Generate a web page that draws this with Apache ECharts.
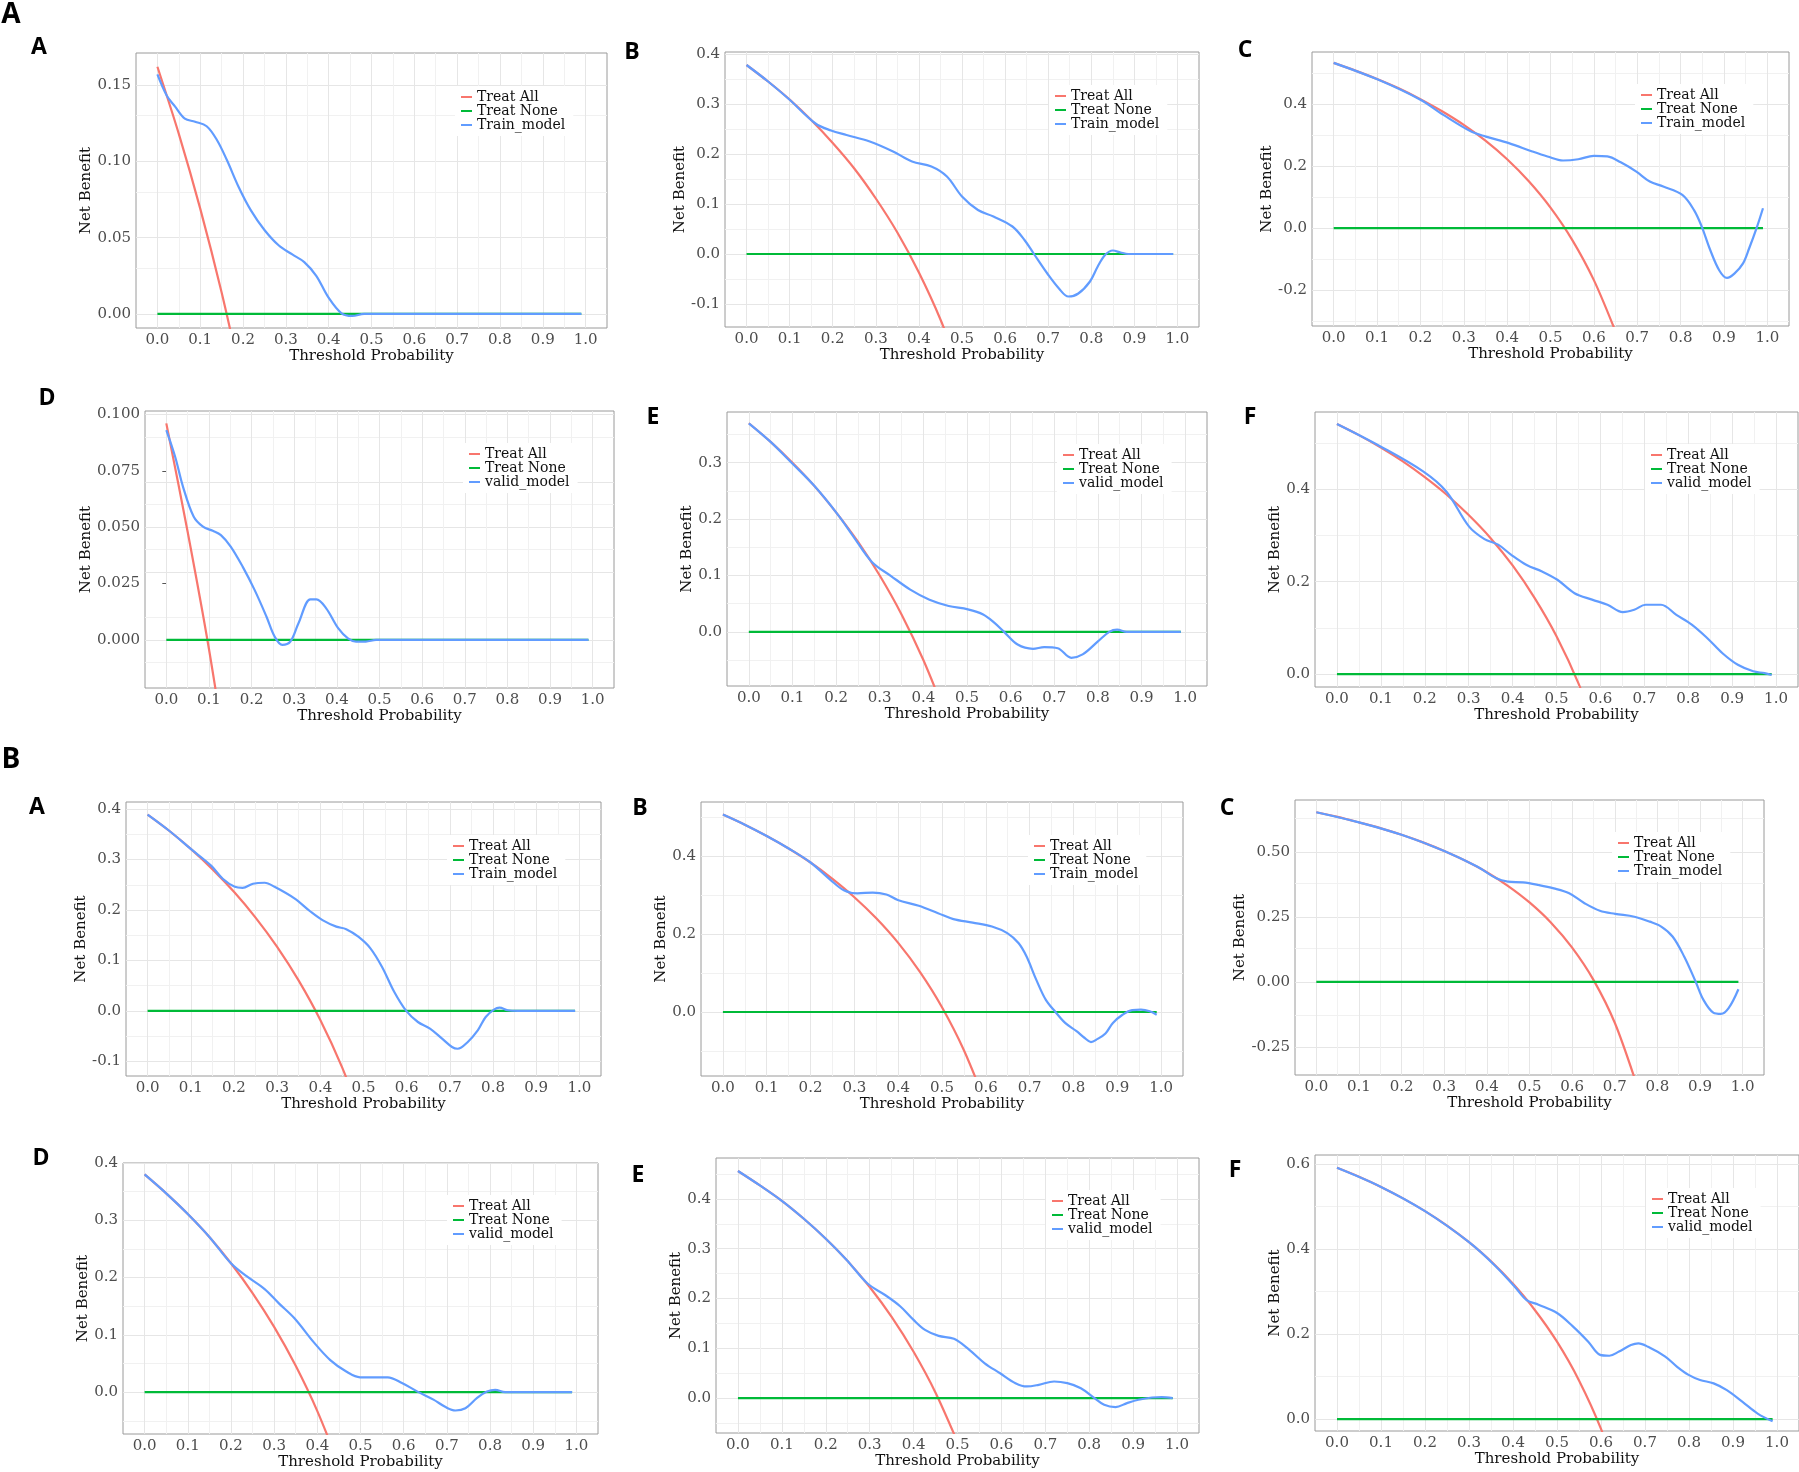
<!DOCTYPE html>
<html lang="en">
<head>
<meta charset="UTF-8">
<title>Decision curve analysis</title>
<style>
  html, body { margin: 0; padding: 0; background: #fff; }
  #chart { width: 1799px; height: 1472px; }
</style>
</head>
<body>
<div id="chart"></div>
<script src="https://cdn.jsdelivr.net/npm/echarts@6.0.0/dist/echarts.min.js"></script>
<script>
// ---- data: [threshold, net benefit] ----
var xTicks = [0, 0.1, 0.2, 0.3, 0.4, 0.5, 0.6, 0.7, 0.8, 0.9, 1.0];
var treatNone = [[0, 0], [0.99, 0]];

// group A, train
var a1All = [[0,0.162],[0.05,0.118],[0.1,0.069],[0.15,0.014],[0.2,-0.048]];
var a1Model = [[0,0.157],[0.022,0.143],[0.041,0.136],[0.064,0.128],[0.088,0.126],[0.115,0.123],[0.139,0.114],[0.162,0.101],[0.19,0.083],[0.218,0.068],[0.25,0.055],[0.283,0.045],[0.315,0.039],[0.343,0.034],[0.371,0.025],[0.399,0.011],[0.43,0.0004],[0.455,-0.0013],[0.483,0],[0.6,0],[0.8,0],[0.99,0]];
var b1All = [[0,0.378],[0.05,0.345],[0.1,0.309],[0.15,0.268],[0.2,0.222],[0.25,0.171],[0.3,0.111],[0.35,0.043],[0.4,-0.037],[0.45,-0.131],[0.5,-0.244]];
var b1Model = [[0,0.378],[0.05,0.345],[0.098,0.31],[0.16,0.261],[0.196,0.247],[0.232,0.238],[0.286,0.225],[0.34,0.205],[0.384,0.185],[0.429,0.175],[0.465,0.155],[0.5,0.115],[0.537,0.088],[0.573,0.075],[0.617,0.055],[0.645,0.028],[0.667,0],[0.698,-0.039],[0.725,-0.069],[0.747,-0.085],[0.77,-0.079],[0.797,-0.055],[0.815,-0.025],[0.832,-0.002],[0.85,0.007],[0.868,0.003],[0.886,0],[0.99,0]];
var c1All = [[0,0.533],[0.05,0.508],[0.1,0.481],[0.15,0.451],[0.2,0.416],[0.25,0.377],[0.3,0.333],[0.35,0.282],[0.4,0.222],[0.45,0.151],[0.5,0.066],[0.55,-0.038],[0.6,-0.168],[0.65,-0.334]];
var c1Model = [[0,0.533],[0.102,0.479],[0.2,0.414],[0.253,0.365],[0.316,0.312],[0.351,0.295],[0.404,0.274],[0.458,0.247],[0.493,0.231],[0.529,0.218],[0.564,0.222],[0.6,0.233],[0.631,0.231],[0.662,0.212],[0.698,0.182],[0.729,0.15],[0.76,0.134],[0.804,0.107],[0.831,0.058],[0.849,0.004],[0.867,-0.066],[0.889,-0.136],[0.907,-0.161],[0.924,-0.147],[0.944,-0.114],[0.958,-0.066],[0.975,-0.001],[0.99,0.064]];
// group A, validation
var d1All = [[0,0.096],[0.05,0.048],[0.1,-0.004],[0.15,-0.064]];
var d1Model = [[0,0.093],[0.021,0.081],[0.039,0.068],[0.064,0.0547],[0.086,0.0502],[0.109,0.0484],[0.128,0.0465],[0.151,0.0414],[0.179,0.0325],[0.207,0.0222],[0.235,0.0103],[0.254,0.0015],[0.272,-0.0022],[0.291,-0.0007],[0.31,0.0074],[0.338,0.018],[0.352,0.018],[0.375,0.014],[0.403,0.0052],[0.426,0.0007],[0.445,-0.0007],[0.468,-0.0007],[0.492,0],[0.99,0]];
var e1All = [[0,0.37],[0.05,0.337],[0.1,0.3],[0.15,0.259],[0.2,0.212],[0.25,0.16],[0.3,0.1],[0.35,0.031],[0.4,-0.05],[0.45,-0.145]];
var e1Model = [[0,0.37],[0.05,0.337],[0.098,0.3],[0.15,0.259],[0.204,0.208],[0.239,0.17],[0.282,0.124],[0.326,0.099],[0.37,0.075],[0.414,0.057],[0.458,0.046],[0.502,0.04],[0.537,0.031],[0.563,0.016],[0.585,0],[0.616,-0.0225],[0.651,-0.03],[0.677,-0.027],[0.708,-0.029],[0.739,-0.046],[0.765,-0.04],[0.8,-0.017],[0.826,0],[0.844,0.004],[0.866,0],[0.99,0]];
var f1All = [[0,0.541],[0.05,0.517],[0.1,0.49],[0.15,0.46],[0.2,0.426],[0.25,0.388],[0.3,0.344],[0.35,0.294],[0.4,0.235],[0.45,0.165],[0.5,0.082],[0.55,-0.02],[0.6,-0.147]];
var f1Model = [[0,0.541],[0.1,0.492],[0.197,0.438],[0.249,0.395],[0.301,0.319],[0.336,0.292],[0.367,0.28],[0.397,0.258],[0.432,0.236],[0.467,0.222],[0.502,0.204],[0.541,0.175],[0.581,0.161],[0.616,0.15],[0.651,0.134],[0.677,0.139],[0.703,0.15],[0.738,0.15],[0.773,0.128],[0.808,0.107],[0.843,0.078],[0.878,0.045],[0.913,0.02],[0.948,0.006],[0.974,0.002],[0.99,-0.002]];

// group B, train
var a2All = [[0,0.389],[0.05,0.357],[0.1,0.321],[0.15,0.281],[0.2,0.236],[0.25,0.185],[0.3,0.127],[0.35,0.06],[0.4,-0.018],[0.45,-0.111],[0.5,-0.222]];
var a2Model = [[0,0.389],[0.05,0.357],[0.1,0.321],[0.147,0.288],[0.174,0.262],[0.202,0.246],[0.22,0.244],[0.244,0.252],[0.271,0.254],[0.294,0.246],[0.34,0.223],[0.377,0.197],[0.405,0.18],[0.437,0.167],[0.46,0.162],[0.488,0.147],[0.516,0.124],[0.543,0.087],[0.571,0.038],[0.599,0],[0.626,-0.022],[0.654,-0.035],[0.682,-0.055],[0.705,-0.0715],[0.718,-0.075],[0.741,-0.062],[0.765,-0.038],[0.783,-0.012],[0.802,0.0026],[0.815,0.0066],[0.834,0.0013],[0.857,0],[0.99,0]];
var b2All = [[0,0.506],[0.05,0.48],[0.1,0.451],[0.15,0.419],[0.2,0.383],[0.25,0.341],[0.3,0.294],[0.35,0.24],[0.4,0.177],[0.45,0.102],[0.5,0.012],[0.55,-0.098],[0.6,-0.235]];
var b2Model = [[0,0.506],[0.05,0.48],[0.1,0.451],[0.15,0.419],[0.2,0.383],[0.246,0.338],[0.276,0.312],[0.307,0.304],[0.342,0.306],[0.373,0.301],[0.399,0.287],[0.447,0.272],[0.491,0.253],[0.526,0.238],[0.57,0.229],[0.614,0.219],[0.649,0.202],[0.675,0.176],[0.693,0.142],[0.715,0.083],[0.737,0.031],[0.759,0],[0.781,-0.028],[0.807,-0.049],[0.825,-0.066],[0.84,-0.077],[0.855,-0.069],[0.873,-0.055],[0.89,-0.028],[0.912,-0.007],[0.934,0.005],[0.954,0.006],[0.974,0.002],[0.99,-0.007]];
var c2All = [[0,0.653],[0.05,0.635],[0.1,0.614],[0.15,0.592],[0.2,0.566],[0.25,0.537],[0.3,0.504],[0.35,0.466],[0.4,0.422],[0.45,0.369],[0.5,0.306],[0.55,0.229],[0.6,0.132],[0.65,0.008],[0.7,-0.157],[0.75,-0.388]];
var c2Model = [[0,0.653],[0.1,0.614],[0.2,0.566],[0.3,0.504],[0.377,0.444],[0.422,0.399],[0.449,0.386],[0.485,0.383],[0.521,0.373],[0.557,0.36],[0.593,0.341],[0.629,0.303],[0.665,0.274],[0.701,0.262],[0.746,0.251],[0.782,0.232],[0.809,0.213],[0.836,0.174],[0.863,0.097],[0.89,0],[0.908,-0.069],[0.931,-0.118],[0.949,-0.123],[0.967,-0.101],[0.99,-0.028]];
// group B, validation
var d2All = [[0,0.38],[0.05,0.347],[0.1,0.311],[0.15,0.271],[0.2,0.225],[0.25,0.173],[0.3,0.114],[0.35,0.046],[0.4,-0.033],[0.45,-0.127]];
var d2Model = [[0,0.38],[0.05,0.347],[0.1,0.311],[0.15,0.271],[0.2,0.225],[0.237,0.202],[0.278,0.18],[0.311,0.155],[0.347,0.129],[0.393,0.086],[0.43,0.056],[0.467,0.036],[0.499,0.026],[0.531,0.026],[0.563,0.026],[0.596,0.016],[0.632,0.001],[0.669,-0.013],[0.697,-0.026],[0.72,-0.032],[0.743,-0.028],[0.77,-0.01],[0.793,0.001],[0.812,0.004],[0.835,0],[0.99,0]];
var e2All = [[0,0.456],[0.05,0.427],[0.1,0.396],[0.15,0.36],[0.2,0.32],[0.25,0.275],[0.3,0.223],[0.35,0.163],[0.4,0.093],[0.45,0.011],[0.5,-0.088]];
var e2Model = [[0,0.456],[0.05,0.427],[0.1,0.396],[0.15,0.36],[0.2,0.32],[0.247,0.278],[0.295,0.23],[0.335,0.207],[0.37,0.184],[0.4,0.157],[0.426,0.137],[0.457,0.125],[0.492,0.119],[0.527,0.097],[0.562,0.07],[0.597,0.05],[0.632,0.03],[0.658,0.0234],[0.685,0.0267],[0.72,0.0334],[0.75,0.03],[0.781,0.02],[0.812,0],[0.834,-0.0134],[0.86,-0.018],[0.886,-0.01],[0.912,-0.0033],[0.943,0.0013],[0.965,0.002],[0.99,0]];
var f2All = [[0,0.591],[0.05,0.57],[0.1,0.546],[0.15,0.519],[0.2,0.489],[0.25,0.455],[0.3,0.416],[0.35,0.371],[0.4,0.318],[0.45,0.256],[0.5,0.182],[0.55,0.091],[0.6,-0.023],[0.65,-0.169]];
var f2Model = [[0,0.591],[0.1,0.546],[0.2,0.489],[0.3,0.416],[0.361,0.359],[0.405,0.31],[0.431,0.28],[0.458,0.269],[0.501,0.249],[0.536,0.218],[0.571,0.182],[0.598,0.151],[0.619,0.149],[0.641,0.159],[0.668,0.174],[0.685,0.178],[0.707,0.17],[0.746,0.147],[0.773,0.123],[0.799,0.104],[0.825,0.092],[0.856,0.084],[0.886,0.068],[0.921,0.041],[0.956,0.013],[0.99,-0.005]];

// y tick labels per panel
var yTicksA1 = [0, 0.05, 0.1, 0.15];
var yTicksB1 = [-0.1, 0, 0.1, 0.2, 0.3, 0.4];
var yTicksC1 = [-0.2, 0, 0.2, 0.4];
var yTicksD1 = [0, 0.025, 0.05, 0.075, 0.1];
var yTicksE1 = [0, 0.1, 0.2, 0.3];
var yTicksF1 = [0, 0.2, 0.4];
var yTicksA2 = [-0.1, 0, 0.1, 0.2, 0.3, 0.4];
var yTicksB2 = [0, 0.2, 0.4];
var yTicksC2 = [-0.25, 0, 0.25, 0.5];
var yTicksD2 = [0, 0.1, 0.2, 0.3, 0.4];
var yTicksE2 = [0, 0.1, 0.2, 0.3, 0.4];
var yTicksF2 = [0, 0.2, 0.4, 0.6];

// ---- layout (pixels) ----
var C_ALL = '#F8766D', C_NONE = '#00BA38', C_MODEL = '#619CFF';
var SERIF = '"DejaVu Serif", "Liberation Serif", serif';
var SANS = '"Open Sans", "DejaVu Sans", sans-serif';

var panels = [
  {tag: 'A', l: 136, t: 53, r: 607, b: 328, yMin: -0.0092, yMax: 0.171, ticks: yTicksA1, dec: 2, all: a1All, model: a1Model, name: 'Train_model', lab: [39, 47], leg: [461, 97], yGap: 39},
  {tag: 'B', l: 725, t: 52, r: 1199, b: 327, yMin: -0.146, yMax: 0.404, ticks: yTicksB1, dec: 1, all: b1All, model: b1Model, name: 'Train_model', lab: [632, 52], leg: [1055, 96], yGap: 34},
  {tag: 'C', l: 1312, t: 52, r: 1789, b: 326, yMin: -0.316, yMax: 0.568, ticks: yTicksC1, dec: 1, all: c1All, model: c1Model, name: 'Train_model', lab: [1245, 50], leg: [1641, 95], yGap: 37},
  {tag: 'D', l: 145, t: 411, r: 614, b: 688, yMin: -0.0213, yMax: 0.1015, ticks: yTicksD1, dec: 3, all: d1All, model: d1Model, name: 'valid_model', lab: [47, 398], leg: [469, 454], yGap: 49},
  {tag: 'E', l: 727, t: 412, r: 1207, b: 686, yMin: -0.096, yMax: 0.39, ticks: yTicksE1, dec: 1, all: e1All, model: e1Model, name: 'valid_model', lab: [653, 417], leg: [1063, 455], yGap: 30},
  {tag: 'F', l: 1315, t: 412, r: 1798, b: 687, yMin: -0.028, yMax: 0.567, ticks: yTicksF1, dec: 1, all: f1All, model: f1Model, name: 'valid_model', lab: [1250, 417], leg: [1651, 455], yGap: 30},
  {tag: 'A', l: 126, t: 802, r: 601, b: 1076, yMin: -0.129, yMax: 0.414, ticks: yTicksA2, dec: 1, all: a2All, model: a2Model, name: 'Train_model', lab: [37, 807], leg: [453, 846], yGap: 35},
  {tag: 'B', l: 701, t: 802, r: 1183, b: 1076, yMin: -0.164, yMax: 0.538, ticks: yTicksB2, dec: 1, all: b2All, model: b2Model, name: 'Train_model', lab: [640, 808], leg: [1034, 846], yGap: 30},
  {tag: 'C', l: 1295, t: 800, r: 1764, b: 1075, yMin: -0.358, yMax: 0.70, ticks: yTicksC2, dec: 2, all: c2All, model: c2Model, name: 'Train_model', lab: [1227, 808], leg: [1618, 843], yGap: 44},
  {tag: 'D', l: 123, t: 1163, r: 598, b: 1434, yMin: -0.073, yMax: 0.40, ticks: yTicksD2, dec: 1, all: d2All, model: d2Model, name: 'valid_model', lab: [41, 1158], leg: [453, 1206], yGap: 30},
  {tag: 'E', l: 716, t: 1158, r: 1199, b: 1433, yMin: -0.070, yMax: 0.482, ticks: yTicksE2, dec: 1, all: e2All, model: e2Model, name: 'valid_model', lab: [638, 1175], leg: [1052, 1201], yGap: 29},
  {tag: 'F', l: 1315, t: 1155, r: 1799, b: 1431, yMin: -0.028, yMax: 0.621, ticks: yTicksF2, dec: 1, all: f2All, model: f2Model, name: 'valid_model', lab: [1235, 1170], leg: [1652, 1199], yGap: 30}
];

// ggplot-style minor breaks: midpoints of the majors, extended one step each side
function minorOf(ticks, lo, hi) {
  var step = ticks[1] - ticks[0], out = [];
  var ext = [ticks[0] - step].concat(ticks, [ticks[ticks.length - 1] + step]);
  for (var i = 0; i < ext.length - 1; i++) {
    var m = (ext[i] + ext[i + 1]) / 2;
    if (m > lo && m < hi) out.push(m);
  }
  return out;
}

var grid = [], xAxis = [], yAxis = [], series = [], legend = [], graphic = [];

panels.forEach(function (p, i) {
  grid.push({
    left: p.l, top: p.t, width: p.r - p.l, height: p.b - p.t,
    show: true, borderColor: '#9a9a9a', borderWidth: 1, backgroundColor: '#fff',
    containLabel: false, outerBoundsMode: 'none'
  });
  xAxis.push({
    type: 'value', gridIndex: i, min: -0.05, max: 1.05,
    axisLine: {show: false}, splitLine: {show: false},
    axisTick: {show: true, customValues: xTicks, length: 4, lineStyle: {color: '#555'}},
    axisLabel: {customValues: xTicks, margin: 5, color: '#4d4d4d', fontFamily: SERIF, fontSize: 15,
      formatter: function (v) { return v.toFixed(1); }},
    name: 'Threshold Probability', nameLocation: 'middle', nameGap: 19,
    nameTextStyle: {color: '#111', fontFamily: SERIF, fontSize: 15}
  });
  yAxis.push({
    type: 'value', gridIndex: i, min: p.yMin, max: p.yMax,
    axisLine: {show: false}, splitLine: {show: false},
    axisTick: {show: true, customValues: p.ticks, length: 4, lineStyle: {color: '#555'}},
    axisLabel: {customValues: p.ticks, margin: 5, color: '#4d4d4d', fontFamily: SERIF, fontSize: 15,
      formatter: function (v) { return v.toFixed(p.dec); }},
    name: 'Net Benefit', nameLocation: 'middle', nameGap: p.yGap, nameRotate: 90,
    nameTextStyle: {color: '#111', fontFamily: SERIF, fontSize: 15}
  });

  // panel grid lines
  var lines = [];
  p.ticks.forEach(function (v) { lines.push({yAxis: v, lineStyle: {color: '#e6e6e6', width: 1, type: 'solid'}}); });
  minorOf(p.ticks, p.yMin, p.yMax).forEach(function (v) { lines.push({yAxis: v, lineStyle: {color: '#f1f1f1', width: 1, type: 'solid'}}); });
  xTicks.forEach(function (v) { lines.push({xAxis: v, lineStyle: {color: '#e6e6e6', width: 1, type: 'solid'}}); });
  minorOf(xTicks, -0.05, 1.05).forEach(function (v) { lines.push({xAxis: v, lineStyle: {color: '#f1f1f1', width: 1, type: 'solid'}}); });
  series.push({
    type: 'line', xAxisIndex: i, yAxisIndex: i, data: [], z: 1, silent: true,
    markLine: {silent: true, z: 1, symbol: ['none', 'none'], label: {show: false}, animation: false, data: lines}
  });

  var common = {type: 'line', xAxisIndex: i, yAxisIndex: i, showSymbol: false, symbol: 'none', z: 2, animation: false};
  series.push(Object.assign({}, common, {name: 'Treat All', data: p.all, smooth: 0.3, color: C_ALL, lineStyle: {width: 2.2, color: C_ALL}}));
  series.push(Object.assign({}, common, {name: 'Treat None', data: treatNone, color: C_NONE, lineStyle: {width: 2.2, color: C_NONE}}));
  series.push(Object.assign({}, common, {name: p.name, data: p.model, smooth: 0.35, color: C_MODEL, lineStyle: {width: 2.2, color: C_MODEL}}));

  legend.push({
    data: ['Treat All', 'Treat None', p.name],
    orient: 'vertical', left: p.leg[0] - 6, top: p.leg[1] - 11, z: 20,
    padding: [4, 8, 4, 6], itemGap: 0, icon: 'rect', itemWidth: 11, itemHeight: 2,
    backgroundColor: '#fff', selectedMode: false,
    textStyle: {fontFamily: SERIF, fontSize: 14, lineHeight: 14, color: '#111'}
  });

  graphic.push({
    type: 'text', x: p.lab[0], y: p.lab[1],
    style: {text: p.tag, fontFamily: SANS, fontWeight: 'bold', fontSize: 23, fill: '#000', align: 'center', verticalAlign: 'middle'}
  });
});

// section letters
graphic.push({type: 'text', x: 11, y: 15, style: {text: 'A', fontFamily: SANS, fontWeight: 'bold', fontSize: 28, fill: '#000', align: 'center', verticalAlign: 'middle'}});
graphic.push({type: 'text', x: 11, y: 760, style: {text: 'B', fontFamily: SANS, fontWeight: 'bold', fontSize: 28, fill: '#000', align: 'center', verticalAlign: 'middle'}});

var chart = echarts.init(document.getElementById('chart'));
chart.setOption({
  animation: false,
  backgroundColor: '#fff',
  grid: grid, xAxis: xAxis, yAxis: yAxis,
  legend: legend, series: series, graphic: graphic
});
</script>
</body>
</html>
